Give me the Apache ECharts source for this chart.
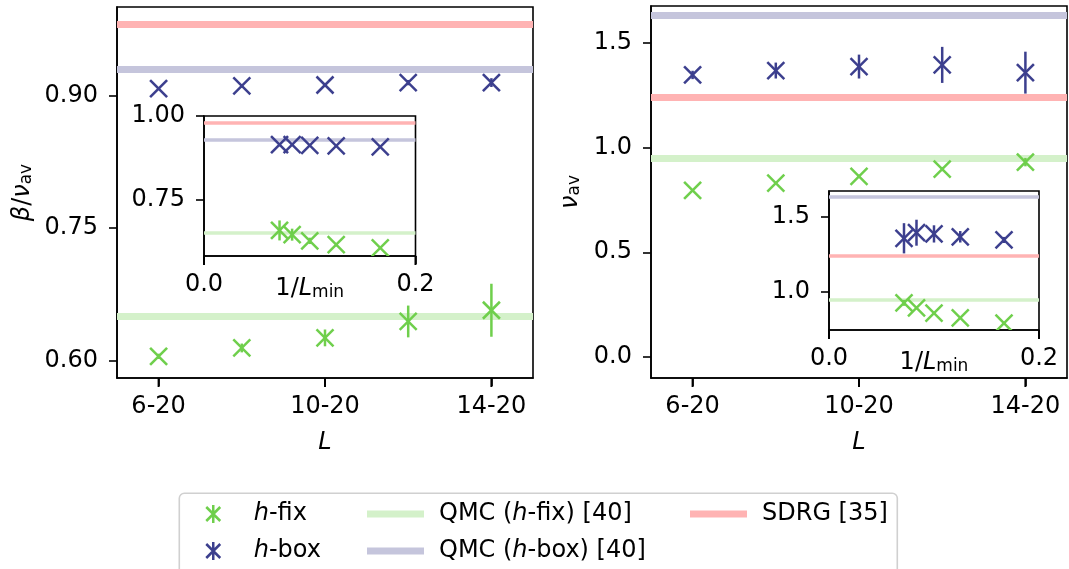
<!DOCTYPE html>
<html><head><meta charset="utf-8">
<script src="https://cdn.jsdelivr.net/npm/echarts@6/dist/echarts.min.js"></script>
<style>html,body{margin:0;padding:0;background:#fff}#c{width:1069px;height:569px}</style>
</head><body><div id="c"></div>
<script>
// ---------------- data ----------------
const L_MIN = [6, 8, 10, 12, 14];
const X_TICKS = [6, 10, 14];
const X_TICK_LABELS = ['6-20', '10-20', '14-20'];
const INV_L = L_MIN.map(l => 1 / l);

const BETA_FIX = [0.6045, 0.6140, 0.6254, 0.6440, 0.6567];
const BETA_FIX_ERR = [0.003, 0.005, 0.0095, 0.018, 0.030];
const BETA_BOX = [0.9076, 0.9106, 0.9117, 0.9144, 0.9144];
const BETA_BOX_ERR = [0.001, 0.002, 0.002, 0.003, 0.005];

const NU_FIX = [0.795, 0.830, 0.862, 0.897, 0.930];
const NU_FIX_ERR = [0.005, 0.005, 0.008, 0.010, 0.020];
const NU_BOX = [1.346, 1.367, 1.386, 1.394, 1.357];
const NU_BOX_ERR = [0.020, 0.038, 0.057, 0.086, 0.100];

// reference values: [QMC (h-fix), QMC (h-box), SDRG]
const BETA_REF = [0.6515, 0.9303, 0.9824];
const NU_REF = [0.952, 1.629, 1.240];

const BETA_TICKS = [0.60, 0.75, 0.90];
const BETA_INSET_TICKS = [0.75, 1.00];
const NU_TICKS = [0.0, 0.5, 1.0, 1.5];
const NU_INSET_TICKS = [1.0, 1.5];
const INV_TICKS = [0.0, 0.2];

const SERIES_NAMES = ['h-fix', 'h-box'];
const REF_NAMES = ['QMC (h-fix) [40]', 'QMC (h-box) [40]', 'SDRG [35]'];

// ---------------- style ----------------
const GREEN = '#6fcf4c';
const BLUE = '#3c3f8e';
const REF_COLORS = ['#d4f1ca', '#c5c5dc', '#ffb3b3'];
const FONT = 'DejaVu Sans';
const FS = 24;
const FS_SUB = 17;

const chart = echarts.init(document.getElementById('c'), null, {renderer: 'canvas'});

function markerRender(half, lw) {
  return function (params, api) {
    const x = api.value(0), y = api.value(1), e = api.value(2);
    const c = api.coord([x, y]);
    const t = api.coord([x, y + e]);
    const b = api.coord([x, y - e]);
    const color = api.visual('color');
    const st = {stroke: color, lineWidth: lw, fill: null};
    return {
      type: 'group',
      children: [
        {type: 'line', shape: {x1: c[0], y1: t[1], x2: c[0], y2: b[1]}, style: st},
        {type: 'line', shape: {x1: c[0] - half, y1: c[1] - half, x2: c[0] + half, y2: c[1] + half}, style: st},
        {type: 'line', shape: {x1: c[0] - half, y1: c[1] + half, x2: c[0] + half, y2: c[1] - half}, style: st}
      ]
    };
  };
}
// bottom x-axis tick marks, positioned through the axis scale
function tickRender(params, api) {
  const cs = params.coordSys;
  const x = api.coord([api.value(0), api.value(1)])[0];
  const yb = cs.y + cs.height;
  return {type: 'line', shape: {x1: x, y1: yb, x2: x, y2: yb + 9},
    style: {stroke: '#000', lineWidth: 2}};
}

const grids = [
  {left: 117, top: 7, width: 416, height: 371},
  {left: 204, top: 116, width: 211.5, height: 140},
  {left: 651, top: 6, width: 416, height: 372},
  {left: 829, top: 191, width: 210, height: 139}
].map(g => Object.assign({show: true, borderColor: '#000', borderWidth: 1.6, containLabel: false}, g));

const richBase = {
  i: {fontStyle: 'italic', fontFamily: FONT, fontSize: FS, color: '#000'},
  t: {fontFamily: FONT, fontSize: FS, color: '#000'},
  sub: {fontFamily: FONT, fontSize: FS_SUB, color: '#000', verticalAlign: 'bottom', lineHeight: 12}
};

function tickCfg(vals) {
  return {show: true, customValues: vals, length: 8, lineStyle: {color: '#000', width: 1.6}};
}
function labelCfg(vals, fmt, margin) {
  return {show: true, customValues: vals, formatter: fmt, fontFamily: FONT, fontSize: FS, color: '#000', margin: margin, hideOverlap: false, showMinLabel: true, showMaxLabel: true};
}
const catFmt = v => { let k = 0; X_TICKS.forEach((t, j) => { if (Math.abs(t - v) < 1e-6) k = j; }); return X_TICK_LABELS[k]; };
const axLine = {show: true, onZero: false, lineStyle: {color: '#000', width: 1.6}};

function mainX(gi) {
  return {
    gridIndex: gi, type: 'value', min: 5, max: 15,
    splitLine: {show: false}, axisLine: axLine,
    axisTick: tickCfg(X_TICKS), axisLabel: labelCfg(X_TICKS, catFmt, 17),
    name: 'L', nameLocation: 'middle', nameGap: 53, nameMoveOverlap: false,
    nameTextStyle: {fontFamily: FONT, fontSize: FS, fontStyle: 'italic', color: '#000'}
  };
}
function insetX(gi) {
  return {
    gridIndex: gi, type: 'value', min: 0, max: 0.2,
    splitLine: {show: false}, axisLine: axLine,
    axisTick: tickCfg(INV_TICKS), axisLabel: labelCfg(INV_TICKS, v => v.toFixed(1), 17),
    name: '{t|1/}{i|L}{sub|min}', nameLocation: 'middle', nameGap: 21, nameMoveOverlap: false,
    nameTextStyle: {fontFamily: FONT, fontSize: FS, color: '#000', rich: richBase}
  };
}
function yAx(gi, min, max, ticks, dec, name, gap) {
  const a = {
    gridIndex: gi, type: 'value', min: min, max: max,
    splitLine: {show: false}, axisLine: axLine,
    axisTick: tickCfg(ticks), axisLabel: labelCfg(ticks, v => v.toFixed(dec), 19)
  };
  if (name) {
    a.name = name; a.nameLocation = 'middle'; a.nameGap = gap; a.nameMoveOverlap = false;
    a.nameTextStyle = {fontFamily: FONT, fontSize: FS, color: '#000', rich: richBase};
  }
  return a;
}

const xAxis = [mainX(0), insetX(1), mainX(2), insetX(3)];
const yAxis = [
  yAx(0, 0.58, 1.0, BETA_TICKS, 2, '{i|β}{t|/}{i|ν}{sub|av}', 82),
  yAx(1, 0.58, 1.0, BETA_INSET_TICKS, 2),
  yAx(2, -0.1, 1.675, NU_TICKS, 1, '{i|ν}{sub|av}', 68),
  yAx(3, 0.75, 1.67, NU_INSET_TICKS, 1)
];

function triples(xs, ys, es) { return xs.map((x, k) => [x, ys[k], es[k]]); }

const series = [];
const panels = [
  {grids: [0, 1], fix: [BETA_FIX, BETA_FIX_ERR], box: [BETA_BOX, BETA_BOX_ERR], ref: BETA_REF, ymid: [0.8, 0.8]},
  {grids: [2, 3], fix: [NU_FIX, NU_FIX_ERR], box: [NU_BOX, NU_BOX_ERR], ref: NU_REF, ymid: [0.8, 1.2]}
];
panels.forEach(p => {
  p.grids.forEach((gi, k) => {
    const xs = k === 0 ? L_MIN : INV_L;
    const lw = k === 0 ? 7 : 3.5;
    p.ref.forEach((v, r) => {
      series.push({
        type: 'line', name: REF_NAMES[r], xAxisIndex: gi, yAxisIndex: gi,
        data: [], color: REF_COLORS[r], silent: true, z: 1,
        markLine: {silent: true, symbol: ['none', 'none'], animation: false,
          label: {show: false}, emphasis: {disabled: true},
          lineStyle: {type: 'solid', width: lw, color: REF_COLORS[r], opacity: 1},
          data: [{yAxis: v}]}
      });
    });
    [[p.fix, GREEN, SERIES_NAMES[0]], [p.box, BLUE, SERIES_NAMES[1]]].forEach(([d, col, nm]) => {
      series.push({
        type: 'custom', name: nm, xAxisIndex: gi, yAxisIndex: gi, clip: true, z: 5,
        itemStyle: {color: col}, color: col, silent: true,
        renderItem: markerRender(8.5, 2.5),
        data: triples(xs, d[0], d[1])
      });
    });
    // x tick marks below the frame
    const tv = k === 0 ? X_TICKS : INV_TICKS;
    series.push({
      type: 'custom', name: '_ticks', xAxisIndex: gi, yAxisIndex: gi, clip: false, z: 20,
      silent: true, renderItem: tickRender,
      data: tv.map(v => [v, p.ymid[k]])
    });
  });
});

const ASTER = 'path://M0,2L14,16M14,2L0,16M7,0L7,18';
const legRich = {
  i: {fontStyle: 'italic', fontFamily: FONT, fontSize: FS, color: '#000', lineHeight: 22},
  t: {fontFamily: FONT, fontSize: FS, color: '#000', lineHeight: 22},
  g1: {width: 28, lineHeight: 22},
  g2: {width: 10, lineHeight: 22}
};
const legFmt = {
  'h-fix': '{g1|}{i|h}{t|-fix}',
  'h-box': '{g1|}{i|h}{t|-box}',
  'QMC (h-fix) [40]': '{g2|}{t|QMC (}{i|h}{t|-fix) [40]}',
  'QMC (h-box) [40]': '{g2|}{t|QMC (}{i|h}{t|-box) [40]}',
  'SDRG [35]': '{g2|}{t|SDRG [35]}'
};
const legCommon = {orient: 'vertical', padding: 0, itemGap: 13, top: 502, selectedMode: false,
  formatter: n => legFmt[n], textStyle: {fontFamily: FONT, fontSize: FS, color: '#000', lineHeight: 22, rich: legRich}};
const legend = [
  Object.assign({}, legCommon, {left: 205, itemWidth: 15, itemHeight: 18,
    data: [
      {name: 'h-fix', icon: ASTER, itemStyle: {color: 'rgba(0,0,0,0)', borderColor: GREEN, borderWidth: 2.5}},
      {name: 'h-box', icon: ASTER, itemStyle: {color: 'rgba(0,0,0,0)', borderColor: BLUE, borderWidth: 2.5}}
    ]}),
  Object.assign({}, legCommon, {left: 367, itemWidth: 57, itemHeight: 7,
    data: [
      {name: REF_NAMES[0], icon: 'rect', itemStyle: {color: REF_COLORS[0], borderWidth: 0}},
      {name: REF_NAMES[1], icon: 'rect', itemStyle: {color: REF_COLORS[1], borderWidth: 0}}
    ]}),
  Object.assign({}, legCommon, {left: 690, itemWidth: 57, itemHeight: 7,
    data: [{name: REF_NAMES[2], icon: 'rect', itemStyle: {color: REF_COLORS[2], borderWidth: 0}}]})
];

chart.setOption({
  animation: false,
  backgroundColor: '#fff',
  grid: grids,
  xAxis: xAxis,
  yAxis: yAxis,
  legend: legend,
  series: series,
  graphic: [{type: 'rect', left: 178.5, top: 492.5, z: -1,
    shape: {width: 718, height: 100, r: 5},
    style: {fill: '#fff', stroke: '#d0d0d0', lineWidth: 1.6}}]
});
</script></body></html>
